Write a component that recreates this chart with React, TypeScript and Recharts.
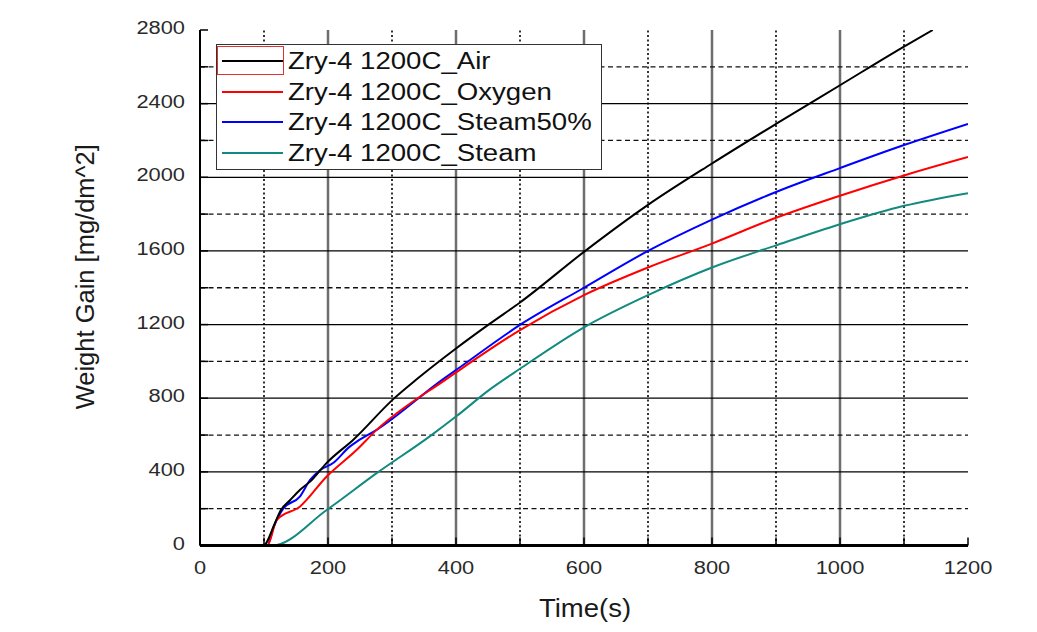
import React from 'react';
import { LineChart, Line, XAxis, YAxis, ReferenceLine, Legend } from 'recharts';

// ---- data ----
const airTime = [0, 99, 117, 125, 141, 156, 172, 198, 240, 302, 339, 400, 453, 500, 600, 700, 800, 900, 1000, 1100, 1145];
const airGain = [0, 0, 121, 184, 247, 302, 347, 449, 576, 795, 904, 1070, 1205, 1320, 1595, 1850, 2075, 2290, 2500, 2710, 2800];

const oxygenTime = [0, 105, 120, 156, 198, 245, 276, 385, 400, 500, 600, 700, 800, 900, 1000, 1100, 1200];
const oxygenGain = [0, 0, 139, 211, 375, 520, 628, 904, 940, 1170, 1360, 1510, 1640, 1780, 1900, 2010, 2110];

const steam50Time = [0, 105, 115, 130, 156, 172, 188, 208, 234, 245, 276, 380, 400, 500, 600, 700, 800, 900, 1000, 1100, 1200];
const steam50Gain = [0, 0, 100, 200, 265, 356, 410, 448, 537, 564, 628, 904, 953, 1198, 1400, 1600, 1770, 1920, 2050, 2175, 2290];

const steamTime = [0, 113, 198, 276, 359, 401, 453, 500, 600, 700, 800, 900, 1000, 1100, 1200];
const steamGain = [0, 0, 193, 393, 593, 703, 848, 960, 1185, 1360, 1510, 1630, 1745, 1845, 1914];

const seriesNames = ['Zry-4 1200C_Air', 'Zry-4 1200C_Oxygen', 'Zry-4 1200C_Steam50%', 'Zry-4 1200C_Steam'];
const seriesColors = ['#000000', '#ff0000', '#0000ff', '#128a80'];

const xTicks = [0, 100, 200, 300, 400, 500, 600, 700, 800, 900, 1000, 1100, 1200];
const xLabelTicks = [0, 200, 400, 600, 800, 1000, 1200];
const yTicks = [0, 200, 400, 600, 800, 1000, 1200, 1400, 1600, 1800, 2000, 2200, 2400, 2600, 2800];
const yLabelTicks = [0, 400, 800, 1200, 1600, 2000, 2400, 2800];

const xSolidGrid = [200, 400, 600, 800, 1000];
const xDottedGrid = [100, 300, 500, 700, 900, 1100];
const ySolidGrid = [400, 800, 1200, 1600, 2000, 2400];
const yDashedGrid = [200, 600, 1000, 1400, 1800, 2200, 2600];

const xTitle = 'Time(s)';
const yTitle = 'Weight Gain [mg/dm^2]';

const toPoints = (ts: number[], gs: number[]) => ts.map((t, i) => ({ t, g: gs[i] }));
const seriesData = [
  toPoints(airTime, airGain),
  toPoints(oxygenTime, oxygenGain),
  toPoints(steam50Time, steam50Gain),
  toPoints(steamTime, steamGain),
];

const FONT = '"Liberation Sans", Arial, sans-serif';

const XTick = (props: any) => {
  const { x, y, payload } = props;
  if (!xLabelTicks.includes(payload.value)) return <g />;
  return (
    <text transform={`translate(${x},${y}) scale(1.15,1)`} x={0} y={14} textAnchor="middle"
      fontSize={19} fill="#2a2a2a" fontFamily={FONT}>{payload.value}</text>
  );
};

const YTick = (props: any) => {
  const { x, y, payload } = props;
  if (!yLabelTicks.includes(payload.value)) return <g />;
  return (
    <text transform={`translate(${x},${y}) scale(1.15,1)`} x={0} y={4} textAnchor="end"
      fontSize={19} fill="#2a2a2a" fontFamily={FONT}>{payload.value}</text>
  );
};

const XTitle = (props: any) => {
  const vb = props.viewBox || { x: 192, y: 537.5, width: 768, height: 60 };
  return (
    <text transform={`translate(${vb.x + vb.width / 2 + 1},${vb.y + 71}) scale(1.1,1)`} x={0} y={0}
      textAnchor="middle" fontSize={25} fill="#1a1a1a" fontFamily={FONT}>{xTitle}</text>
  );
};

const YTitle = (props: any) => {
  const vb = props.viewBox || { x: 42, y: 22, width: 150, height: 515.5 };
  const cx = vb.x + 44;
  const cy = vb.y + vb.height / 2 - 11;
  return (
    <text transform={`rotate(-90,${cx},${cy})`} x={cx} y={cy} textAnchor="middle"
      fontSize={25.5} fill="#1a1a1a" fontFamily={FONT}>{yTitle}</text>
  );
};

const LegendBox = () => (
  <div style={{ position: 'relative', width: 386, height: 126, border: '1px solid #333', background: '#fff', boxSizing: 'border-box', fontFamily: FONT }}>
    {seriesNames.map((name, i) => (
      <div key={name} style={{ position: 'absolute', left: 0, top: 16 + i * 30.7 - 15, width: '100%', height: 30 }}>
        <div style={{ position: 'absolute', left: 5, top: 14, width: 61, height: 2, background: seriesColors[i] }} />
        <span style={{ position: 'absolute', left: 71, top: 0, fontSize: 23, lineHeight: '30px', whiteSpace: 'nowrap', color: '#111', transform: 'scaleX(1.2)', transformOrigin: 'left center' }}>{name}</span>
      </div>
    ))}
    <div style={{ position: 'absolute', left: 0, top: 1, width: 67, height: 29, border: '1px solid #e03030', boxSizing: 'border-box' }} />
  </div>
);

export default function App() {
  return (
    <LineChart width={1021} height={616} margin={{ top: 22, right: 61, bottom: 18.5, left: 42 }} style={{ background: '#fff' }}>
      <XAxis xAxisId={0} dataKey="t" type="number" domain={[0, 1200]} ticks={xTicks} interval={0} allowDataOverflow
        height={60} tickSize={-8} tickMargin={22.5} tick={XTick}
        axisLine={{ stroke: '#000', strokeWidth: 3 }} tickLine={{ stroke: '#000', strokeWidth: 1.5 }}
        label={{ content: XTitle }} />
      <XAxis xAxisId="top" orientation="top" dataKey="t" type="number" domain={[0, 1200]} ticks={xTicks} interval={0}
        height={0} tickSize={-8} tick={false}
        axisLine={{ stroke: '#000', strokeWidth: 2 }} tickLine={{ stroke: '#000', strokeWidth: 1.5 }} />
      <YAxis yAxisId={0} type="number" domain={[0, 2800]} ticks={yTicks} interval={0} allowDataOverflow
        width={150} tickSize={-8} tickMargin={23} tick={YTick}
        axisLine={{ stroke: '#000', strokeWidth: 2 }} tickLine={{ stroke: '#000', strokeWidth: 1.5 }}
        label={{ content: YTitle }} />
      <YAxis yAxisId="right" orientation="right" type="number" domain={[0, 2800]} ticks={yTicks} interval={0}
        width={0} tickSize={-8} tick={false}
        axisLine={{ stroke: '#000', strokeWidth: 2 }} tickLine={{ stroke: '#000', strokeWidth: 1.5 }} />

      {xDottedGrid.map((v) => (
        <ReferenceLine key={'xd' + v} x={v} stroke="#333" strokeWidth={2} strokeDasharray="2 2.5" ifOverflow="hidden" />
      ))}
      {xSolidGrid.map((v) => (
        <ReferenceLine key={'xs' + v} x={v} stroke="#6e6e6e" strokeWidth={2.5} ifOverflow="hidden" />
      ))}
      {yDashedGrid.map((v) => (
        <ReferenceLine key={'yd' + v} y={v} stroke="#111" strokeWidth={1.3} strokeDasharray="5 3.5" ifOverflow="hidden" />
      ))}
      {ySolidGrid.map((v) => (
        <ReferenceLine key={'ys' + v} y={v} stroke="#000" strokeWidth={1.3} ifOverflow="hidden" />
      ))}

      {seriesData.map((d, i) => (
        <Line key={seriesNames[i]} data={d} dataKey="g" name={seriesNames[i]} type="monotone"
          stroke={seriesColors[i]} strokeWidth={2} dot={false} activeDot={false} isAnimationActive={false} />
      )).reverse()}

      <Legend layout="vertical" align="center" verticalAlign="middle" content={LegendBox}
        wrapperStyle={{ left: 208, top: 36, width: 386, height: 126, bottom: 'auto', right: 'auto' }} />
    </LineChart>
  );
}
